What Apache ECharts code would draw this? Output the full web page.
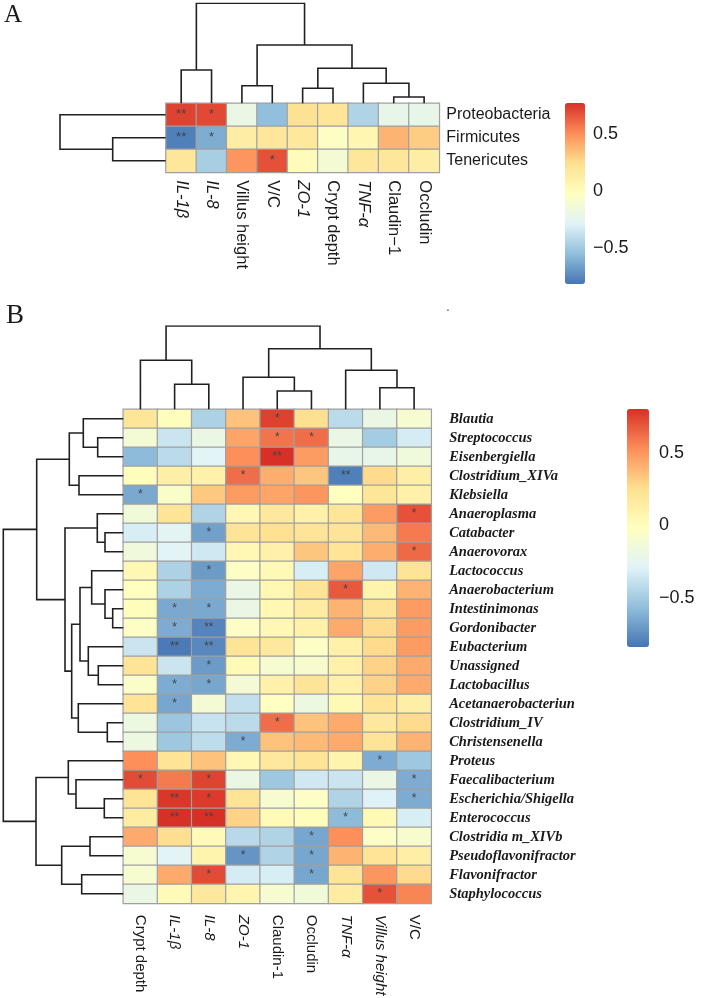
<!DOCTYPE html>
<html><head><meta charset="utf-8">
<script src="https://cdn.jsdelivr.net/npm/echarts@6/dist/echarts.min.js"></script>
<style>html,body{margin:0;padding:0;background:#fff}#c{width:708px;height:998px}</style>
</head><body><div id="c"></div>
<script>
// ---------- Panel A data ----------
const colsA = ['IL-1β','IL-8','Villus height','V/C','ZO-1','Crypt depth','TNF-α','Claudin−1','Occludin'];
const italicA = [true,true,false,false,true,false,true,false,false];
const rowsA = ['Proteobacteria','Firmicutes','Tenericutes'];
const valsA = [
  [0.72, 0.70, -0.20, -0.55, 0.22, 0.20, -0.45, -0.22, -0.22],
  [-0.78, -0.62, 0.12, 0.18, 0.17, -0.05, 0.05, 0.38, 0.30],
  [0.18, -0.48, 0.48, 0.68, 0.00, -0.12, 0.18, 0.18, 0.12]
];
const starsA = [
  ['**','*','','','','','','',''],
  ['**','*','','','','','','',''],
  ['','','','*','','','','','']
];
// hclust-style merges: negative = leaf (1-based), positive = earlier merge; [a, b, height]
const colTreeA = [[-1,-2,33.3],[-3,-4,17.6],[-5,-6,15],[-8,-9,6.3],[-7,4,20],[3,5,35],[2,6,58.3],[1,7,100]];
const rowTreeA = [[-2,-3,53],[-1,1,105.7]];
const rangeA = [-0.82, 0.77];

// ---------- Panel B data ----------
const colsB = ['Crypt depth','IL-1β','IL-8','ZO-1','Claudin-1','Occludin','TNF-α','Villus height','V/C'];
const italicB = [false,true,true,true,false,false,true,true,false];
const rowsB = ['Blautia','Streptococcus','Eisenbergiella','Clostridium_XIVa','Klebsiella','Anaeroplasma','Catabacter','Anaerovorax','Lactococcus','Anaerobacterium','Intestinimonas','Gordonibacter','Eubacterium','Unassigned','Lactobacillus','Acetanaerobacteriun','Clostridium_IV','Christensenella','Proteus','Faecalibacterium','Escherichia/Shigella','Enterococcus','Clostridia m_XIVb','Pseudoflavonifractor','Flavonifractor','Staphylococcus'];
const valsB = [
  [0.20, 0.00, -0.47, 0.35, 0.75, 0.25, -0.42, -0.20, -0.10],
  [-0.12, -0.37, -0.20, 0.45, 0.60, 0.62, -0.20, -0.50, -0.33],
  [-0.58, -0.42, -0.28, 0.52, 0.80, 0.48, -0.22, -0.22, -0.16],
  [0.00, 0.12, 0.10, 0.62, 0.42, 0.34, -0.80, 0.27, 0.12],
  [-0.65, -0.06, 0.33, 0.48, 0.45, 0.50, -0.02, 0.20, 0.10],
  [-0.14, 0.22, -0.46, 0.05, 0.18, 0.10, 0.20, 0.48, 0.70],
  [-0.32, -0.27, -0.68, 0.22, 0.24, 0.22, 0.22, 0.38, 0.58],
  [-0.15, -0.28, -0.35, 0.05, 0.10, 0.34, 0.22, 0.42, 0.63],
  [0.04, -0.47, -0.70, -0.05, 0.03, -0.32, 0.45, -0.35, 0.22],
  [-0.02, -0.47, -0.64, -0.20, 0.05, 0.22, 0.68, 0.08, 0.40],
  [0.00, -0.65, -0.65, -0.20, 0.05, 0.15, 0.40, 0.22, 0.48],
  [-0.05, -0.64, -0.78, -0.05, 0.05, 0.10, 0.43, 0.27, 0.48],
  [-0.37, -0.82, -0.77, 0.22, 0.18, -0.05, 0.10, 0.27, 0.48],
  [0.22, -0.37, -0.70, 0.02, -0.10, -0.08, 0.10, 0.30, 0.43],
  [-0.06, -0.64, -0.66, -0.12, 0.10, 0.22, 0.10, 0.30, 0.43],
  [0.22, -0.66, -0.12, -0.40, -0.02, -0.18, 0.03, 0.22, 0.12],
  [-0.18, -0.53, -0.38, -0.42, 0.62, 0.35, 0.43, 0.18, 0.27],
  [-0.18, -0.52, -0.41, -0.64, 0.35, 0.38, 0.43, 0.22, 0.40],
  [0.52, 0.22, 0.35, 0.05, 0.18, 0.22, 0.08, -0.64, -0.52],
  [0.72, 0.58, 0.74, -0.20, -0.52, -0.35, -0.37, -0.20, -0.64],
  [0.22, 0.78, 0.77, 0.22, -0.10, -0.05, -0.46, -0.30, -0.64],
  [0.15, 0.80, 0.80, 0.30, 0.02, 0.00, -0.58, 0.03, -0.32],
  [0.43, 0.26, 0.02, -0.43, -0.46, -0.66, 0.52, -0.05, -0.08],
  [-0.10, -0.28, 0.08, -0.72, -0.46, -0.66, 0.40, 0.22, 0.12],
  [-0.10, 0.43, 0.72, -0.33, -0.32, -0.66, 0.22, 0.50, 0.27],
  [-0.20, 0.02, 0.18, 0.07, -0.10, -0.14, 0.15, 0.70, 0.55]
];
const starsB = [
  ['','','','','*','','','',''],
  ['','','','','*','*','','',''],
  ['','','','','**','','','',''],
  ['','','','*','','','**','',''],
  ['*','','','','','','','',''],
  ['','','','','','','','','*'],
  ['','','*','','','','','',''],
  ['','','','','','','','','*'],
  ['','','*','','','','','',''],
  ['','','','','','','*','',''],
  ['','*','*','','','','','',''],
  ['','*','**','','','','','',''],
  ['','**','**','','','','','',''],
  ['','','*','','','','','',''],
  ['','*','*','','','','','',''],
  ['','*','','','','','','',''],
  ['','','','','*','','','',''],
  ['','','','*','','','','',''],
  ['','','','','','','','*',''],
  ['*','','*','','','','','','*'],
  ['','**','*','','','','','','*'],
  ['','**','**','','','','*','',''],
  ['','','','','','*','','',''],
  ['','','','*','','*','','',''],
  ['','','*','','','*','','',''],
  ['','','','','','','','*','']
];
const colTreeB = [[-2,-3,25],[-1,1,49],[-5,-6,18.3],[-4,3,32],[-8,-9,21.6],[-7,5,39],[4,6,60.6],[2,7,83.3]];
const rowTreeB = [
  [-2,-3,25.6],[-1,1,40],[-4,-5,44.3],[2,3,54],
  [-7,-8,18.3],[-6,5,26],
  [-11,-12,10.6],[-10,7,18.3],[-9,8,31.6],
  [-14,-15,25],[-13,10,35],[9,11,43.3],
  [-17,-18,16],[-16,13,45],[12,14,51.6],
  [6,15,58.3],[4,16,86.6],
  [-21,-22,19],[-20,18,47.3],[-19,19,55],
  [-23,-24,33.3],[-25,-26,41.6],[21,22,61.6],
  [20,23,87.3],[17,24,120]
];
const rangeB = [-0.84, 0.80];
const barTicks = [-0.5, 0, 0.5];
const palette = ['#4575B4','#91BFDB','#E0F3F8','#FFFFBF','#FEE090','#FC8D59','#D73027'];

// ---------- helpers ----------
const SANS = 'Liberation Sans, Arial, Helvetica, sans-serif';
const SERIF = 'Liberation Serif, Times New Roman, serif';
const INK = '#1a1a1a';

function treeSegs(merges, horizontal) {
  const pos = [], hgt = [], segs = [];
  const P = k => k < 0 ? -k - 1 : pos[k - 1];
  const H = k => k < 0 ? 0 : hgt[k - 1];
  merges.forEach(([a, b, h], i) => {
    const pa = P(a), pb = P(b);
    pos[i] = (pa + pb) / 2; hgt[i] = h;
    const pts = [[pa, H(a)], [pa, h], [pb, h], [pb, H(b)]];
    segs.push({ coords: horizontal ? pts.map(p => [p[1], p[0]]) : pts });
  });
  return segs;
}
function heatData(vals) {
  const d = [];
  vals.forEach((row, r) => row.forEach((v, c) => d.push([c, r, v])));
  return d;
}
function colLabel(italics, size, margin) {
  return {
    rotate: -90, interval: 0, margin: margin,
    formatter: (v, i) => (italics[i] ? '{i|' : '{n|') + v + '}',
    rich: {
      i: { fontStyle: 'italic', fontSize: size, fontFamily: SANS, color: INK },
      n: { fontSize: size, fontFamily: SANS, color: INK }
    }
  };
}
const tickFmt = v => String(v).replace('-', '−');
const gridBase = { containLabel: false, outerBoundsMode: 'none' };
const hidden = { show: false };
function lineSeries(data, xi, yi) {
  return { type: 'lines', coordinateSystem: 'cartesian2d', xAxisIndex: xi, yAxisIndex: yi,
    polyline: true, silent: true, data: data,
    lineStyle: { color: '#202020', width: 1.6, opacity: 1 } };
}

const chart = echarts.init(document.getElementById('c'), null, { renderer: 'canvas' });
chart.setOption({
  animation: false,
  backgroundColor: '#fff',
  textStyle: { fontFamily: SANS },
  title: [
    { text: 'A', left: 4, top: 2.5, padding: 0, textStyle: { fontFamily: SERIF, fontSize: 25, fontWeight: 'normal', color: INK } },
    { text: 'B', left: 6, top: 302, padding: 0, textStyle: { fontFamily: SERIF, fontSize: 27, fontWeight: 'normal', color: INK } },
    { text: '.', left: 446, top: 300, padding: 0, textStyle: { fontFamily: SANS, fontSize: 14, fontWeight: 'normal', color: '#555' } }
  ],
  grid: [
    Object.assign({ left: 166, top: 103.3, width: 273.3, height: 69 }, gridBase),
    Object.assign({ left: 166, top: 3.3, width: 273.3, height: 100 }, gridBase),
    Object.assign({ left: 60, top: 103.3, width: 105.7, height: 69 }, gridBase),
    Object.assign({ left: 565, top: 103, width: 20, height: 181 }, gridBase),
    Object.assign({ left: 123.3, top: 409.3, width: 307.9, height: 494 }, gridBase),
    Object.assign({ left: 123.3, top: 326, width: 307.9, height: 83.3 }, gridBase),
    Object.assign({ left: 3.3, top: 409.3, width: 120, height: 494 }, gridBase),
    Object.assign({ left: 627, top: 409, width: 22, height: 238 }, gridBase)
  ],
  xAxis: [
    { gridIndex: 0, type: 'category', data: colsA, position: 'bottom', axisLine: hidden, axisTick: hidden, splitArea: hidden, axisLabel: colLabel(italicA, 16.5, 8) },
    { gridIndex: 1, type: 'value', min: -0.5, max: colsA.length - 0.5, show: false },
    { gridIndex: 2, type: 'value', min: 0, max: 105.7, inverse: true, show: false },
    { gridIndex: 3, type: 'value', show: false },
    { gridIndex: 4, type: 'category', data: colsB, position: 'bottom', axisLine: hidden, axisTick: hidden, splitArea: hidden, axisLabel: colLabel(italicB, 15, 11.5) },
    { gridIndex: 5, type: 'value', min: -0.5, max: colsB.length - 0.5, show: false },
    { gridIndex: 6, type: 'value', min: 0, max: 120, inverse: true, show: false },
    { gridIndex: 7, type: 'value', show: false }
  ],
  yAxis: [
    { gridIndex: 0, type: 'category', data: rowsA, inverse: true, position: 'right', axisLine: hidden, axisTick: hidden, splitArea: hidden,
      axisLabel: { interval: 0, margin: 7, fontSize: 16, fontFamily: SANS, color: INK } },
    { gridIndex: 1, type: 'value', min: 0, max: 100, show: false },
    { gridIndex: 2, type: 'value', min: -0.5, max: rowsA.length - 0.5, inverse: true, show: false },
    { gridIndex: 3, type: 'value', min: rangeA[0], max: rangeA[1], position: 'right', axisLine: hidden, axisTick: hidden, splitLine: hidden,
      axisLabel: { customValues: barTicks, margin: 8, fontSize: 18, fontFamily: SANS, color: INK, formatter: tickFmt } },
    { gridIndex: 4, type: 'category', data: rowsB, inverse: true, position: 'right', axisLine: hidden, axisTick: hidden, splitArea: hidden,
      axisLabel: { interval: 0, margin: 18, fontSize: 14.5, fontFamily: SERIF, fontStyle: 'italic', fontWeight: 'bold', color: INK } },
    { gridIndex: 5, type: 'value', min: 0, max: 83.3, show: false },
    { gridIndex: 6, type: 'value', min: -0.5, max: rowsB.length - 0.5, inverse: true, show: false },
    { gridIndex: 7, type: 'value', min: rangeB[0], max: rangeB[1], position: 'right', axisLine: hidden, axisTick: hidden, splitLine: hidden,
      axisLabel: { customValues: barTicks, margin: 10, fontSize: 18, fontFamily: SANS, color: INK, formatter: tickFmt } }
  ],
  visualMap: [
    { type: 'continuous', seriesIndex: 0, min: rangeA[0], max: rangeA[1], calculable: false, hoverLink: false,
      inRange: { color: palette }, left: 565, top: 103, itemWidth: 20, itemHeight: 181, padding: 0, orient: 'vertical' },
    { type: 'continuous', seriesIndex: 1, min: rangeB[0], max: rangeB[1], calculable: false, hoverLink: false,
      inRange: { color: palette }, left: 627, top: 409, itemWidth: 22, itemHeight: 238, padding: 0, orient: 'vertical' }
  ],
  series: [
    { type: 'heatmap', xAxisIndex: 0, yAxisIndex: 0, data: heatData(valsA), emphasis: { disabled: true },
      itemStyle: { borderColor: '#a0a0a0', borderWidth: 1.2 },
      label: { show: true, color: '#444', fontSize: 13, fontFamily: SANS, formatter: p => starsA[p.data[1]][p.data[0]] } },
    { type: 'heatmap', xAxisIndex: 4, yAxisIndex: 4, data: heatData(valsB), emphasis: { disabled: true },
      itemStyle: { borderColor: '#a0a0a0', borderWidth: 1.2 },
      label: { show: true, color: '#444', fontSize: 12, fontFamily: SANS, formatter: p => starsB[p.data[1]][p.data[0]] } },
    lineSeries(treeSegs(colTreeA, false), 1, 1),
    lineSeries(treeSegs(rowTreeA, true), 2, 2),
    lineSeries(treeSegs(colTreeB, false), 5, 5),
    lineSeries(treeSegs(rowTreeB, true), 6, 6)
  ]
});
</script>
</body></html>
